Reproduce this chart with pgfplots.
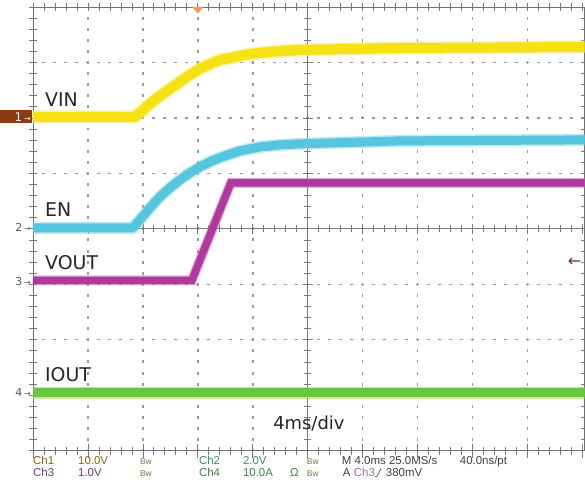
\documentclass[border=0pt]{standalone}
\usepackage{fontspec}
\setmainfont{Liberation Sans}
\newfontfamily\dv{DejaVu Sans}
\usepackage{pgfplots}
\usepackage{pgfplotstable}
\pgfplotsset{compat=1.18}
\definecolor{vinc}{HTML}{F6E214}
\definecolor{enc}{HTML}{55C6DE}
\definecolor{voutc}{HTML}{B0389E}
\definecolor{ioutc}{HTML}{68C63C}
\definecolor{gridgray}{HTML}{9A9A9A}
\definecolor{tickgray}{HTML}{7A7A7A}
\definecolor{bordergray}{HTML}{707070}
\definecolor{chA}{HTML}{7E6A22}
\definecolor{chB}{HTML}{3A8A80}
\definecolor{chC}{HTML}{7A3576}
\definecolor{chD}{HTML}{3A8848}
\definecolor{bwc}{HTML}{7A7A48}
\definecolor{mkbrown}{HTML}{8B3A12}
% traces in screen divisions (x: 0..10 horiz, y: 0..8 vert)
\pgfplotstableread{
x y
0 6.018
1.8545 6.018
1.9818 6.126
2.1273 6.252
2.3091 6.396
2.4909 6.523
2.6727 6.649
2.8545 6.775
3.0364 6.883
3.2182 6.973
3.4000 7.045
3.6727 7.099
3.9455 7.153
4.4000 7.198
4.8545 7.225
5.7636 7.243
6.6727 7.261
8.4909 7.270
10.036 7.279
}\vintab
\pgfplotstableread{
x y
0 4.018
1.8182 4.018
1.9455 4.162
2.1273 4.378
2.3091 4.577
2.4909 4.739
2.6727 4.883
2.8545 5.009
3.0364 5.117
3.2545 5.225
3.4909 5.315
3.7636 5.405
4.1273 5.477
4.4909 5.514
4.8545 5.532
5.7636 5.559
6.6727 5.586
8.4909 5.595
10.036 5.604
}\entab
\pgfplotstableread{
x y
0 3.072
2.8909 3.072
3.6000 4.829
10.036 4.829
}\vouttab
\pgfplotstableread{
x y
0 1.045
10.036 1.045
}\iouttab
\begin{document}
\begin{tikzpicture}
\begin{scope}[x=1bp,y=1bp]
\path[use as bounding box, fill=white] (-33,-34) rectangle (552,451);
% dotted graticule (vertical lines)
\draw[gridgray, line width=1.4bp, dash pattern=on 3bp off 8.1bp, dash phase=1.5bp]
  (55,0) -- (55,444) (110,0) -- (110,444) (165,0) -- (165,444) (220,0) -- (220,444)
  (330,0) -- (330,444) (385,0) -- (385,444) (440,0) -- (440,444) (495,0) -- (495,444);
% dotted graticule (horizontal lines)
\draw[gridgray, line width=1.4bp, dash pattern=on 3bp off 8bp, dash phase=1.5bp]
  (0,55.5) -- (552,55.5) (0,111) -- (552,111) (0,166.5) -- (552,166.5)
  (0,277.5) -- (552,277.5) (0,333) -- (552,333) (0,388.5) -- (552,388.5);
% border ticks (minor every 1/5 division, major at divisions)
\draw[tickgray, line width=8bp, dash pattern=on 0.8bp off 10.2bp, dash phase=0.4bp] (0,0) -- (552,0);
\draw[tickgray, line width=8bp, dash pattern=on 0.8bp off 10.2bp, dash phase=0.4bp] (0,444) -- (552,444);
\draw[tickgray, line width=14bp, dash pattern=on 0.8bp off 54.2bp, dash phase=0.4bp] (0,0) -- (552,0);
\draw[tickgray, line width=8bp, dash pattern=on 0.8bp off 10.3bp, dash phase=0.4bp] (0,0) -- (0,444);
\draw[tickgray, line width=8bp, dash pattern=on 0.8bp off 10.3bp, dash phase=0.4bp] (552,0) -- (552,444);
% centre graticule cross with fine ticks
\draw[tickgray, line width=0.8bp] (275,0) -- (275,444);
\draw[tickgray, line width=0.8bp] (0,222) -- (552,222);
\draw[tickgray, line width=7bp, dash pattern=on 0.8bp off 10.3bp, dash phase=0.4bp] (275,0) -- (275,444);
\draw[tickgray, line width=7bp, dash pattern=on 0.8bp off 10.2bp, dash phase=0.4bp] (0,222) -- (552,222);
\draw[tickgray, line width=10bp, dash pattern=on 0.8bp off 54.7bp, dash phase=0.4bp] (275,0) -- (275,444);
\draw[tickgray, line width=10bp, dash pattern=on 0.8bp off 54.2bp, dash phase=0.4bp] (0,222) -- (552,222);
\end{scope}
\begin{axis}[
  at={(0,0)}, anchor=south west, scale only axis,
  width=552bp, height=444bp,
  xmin=0, xmax=10.036, ymin=0, ymax=8,
  xtick=\empty, ytick=\empty,
  axis line style={bordergray, line width=0.8bp},
  clip=true,
]
\addplot[vinc!70!white, line width=13bp, opacity=0.55, line join=round] table {\vintab};
\addplot[vinc, line width=10bp, line join=round] table {\vintab};
\addplot[enc!70!white, line width=12bp, opacity=0.55, line join=round] table {\entab};
\addplot[enc, line width=9bp, line join=round] table {\entab};
\addplot[voutc!70!white, line width=10bp, opacity=0.55] table {\vouttab};
\addplot[voutc, line width=7.5bp] table {\vouttab};
\addplot[ioutc!70!white, line width=12bp, opacity=0.55] table {\iouttab};
\addplot[ioutc, line width=9bp] table {\iouttab};
\node[anchor=base west, inner sep=0, text=black!85, font=\dv\fontsize{19}{19}\selectfont] at (axis cs:0.218,6.198) {VIN};
\node[anchor=base west, inner sep=0, text=black!85, font=\dv\fontsize{19}{19}\selectfont] at (axis cs:0.218,4.216) {EN};
\node[anchor=base west, inner sep=0, text=black!85, font=\dv\fontsize{19}{19}\selectfont] at (axis cs:0.218,3.261) {VOUT};
\node[anchor=base west, inner sep=0, text=black!85, font=\dv\fontsize{19}{19}\selectfont] at (axis cs:0.218,1.243) {IOUT};
\node[anchor=base, inner sep=0, text=black!85, font=\dv\fontsize{18}{18}\selectfont] at (axis cs:5.02,0.378) {4ms/div};
\end{axis}
\begin{scope}[x=1bp,y=1bp]
% channel markers
\fill[mkbrown] (-33,327.5) rectangle (-1,340.5);
\node[anchor=east, inner sep=0, text=white, font=\dv\fontsize{12}{12}\selectfont] at (-2,334) {1\,\fontsize{8}{8}\selectfont→};
\node[anchor=east, inner sep=0, text=black!65, font=\dv\fontsize{11}{11}\selectfont] at (-2,223) {2\,\fontsize{8}{8}\selectfont→};
\node[anchor=east, inner sep=0, text=black!65, font=\dv\fontsize{11}{11}\selectfont] at (-2,169) {3\,\fontsize{8}{8}\selectfont→};
\node[anchor=east, inner sep=0, text=black!65, font=\dv\fontsize{11}{11}\selectfont] at (-2,58) {4\,\fontsize{8}{8}\selectfont→};
\node[inner sep=0, text=chC!85!black, font=\dv\fontsize{16}{16}\selectfont] at (542,189) {←};
\fill[orange!80!red!70!white] (159.5,444) -- (170.5,444) -- (165,437.5) -- cycle;
% status lines
\begin{scope}[every node/.style={anchor=base west, inner sep=0, font=\fontsize{11.5}{11.5}\selectfont}]
\node[text=chA] at (0,-14) {Ch1};
\node[text=chA] at (45,-14) {10.0V};
\node[text=bwc, font=\fontsize{8.5}{8.5}\selectfont] at (107,-14) {Bw};
\node[text=chB] at (166,-14) {Ch2};
\node[text=chB] at (210,-14) {2.0V};
\node[text=bwc, font=\fontsize{8.5}{8.5}\selectfont] at (274,-14) {Bw};
\node[text=black!75] at (309,-14) {M 4.0ms 25.0MS/s};
\node[text=black!75] at (427,-14) {40.0ns/pt};
\node[text=chC] at (0,-26) {Ch3};
\node[text=chC] at (45,-26) {1.0V};
\node[text=bwc, font=\fontsize{8.5}{8.5}\selectfont] at (107,-26) {Bw};
\node[text=chD] at (166,-26) {Ch4};
\node[text=chD] at (210,-26) {10.0A};
\node[text=chD] at (257,-26) {Ω};
\node[text=bwc, font=\fontsize{8.5}{8.5}\selectfont] at (274,-26) {Bw};
\node[text=black!75] at (310,-26) {A};
\node[text=chC!70!white] at (321,-26) {Ch3};
\node[text=black!75] at (353,-26) {380mV};
\end{scope}
\draw[black!70, line width=0.6bp] (342,-26) -- (344,-26) -- (348,-18.5) -- (349.5,-18.5);
\end{scope}
\end{tikzpicture}
\end{document}
